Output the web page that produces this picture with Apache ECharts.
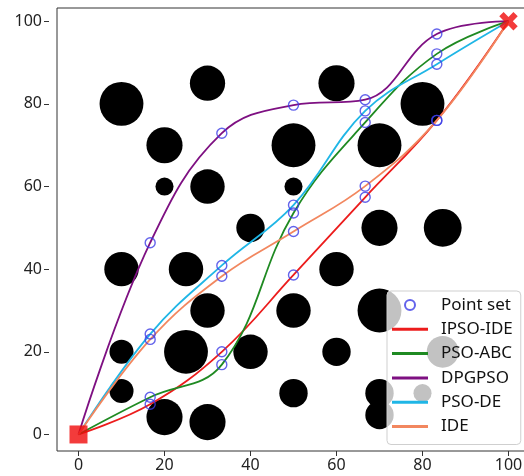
<!DOCTYPE html>
<html>
<head>
<meta charset="utf-8">
<script src="https://cdn.jsdelivr.net/npm/echarts@6/dist/echarts.min.js"></script>
<style>
  html, body { margin: 0; padding: 0; background: #fff; }
  #main { width: 524px; height: 476px; }
</style>
</head>
<body>
<div id="main"></div>
<script>
// path nodes (x positions shared by all paths)
var pathX = [0, 16.67, 33.33, 50, 66.67, 83.33, 100];
var ipsoIde = [0, 7.3, 20.0, 38.6, 57.4, 76.0, 100];
var psoAbc = [0, 9.0, 16.9, 53.6, 75.5, 92.1, 100];
var dpgpso = [0, 46.4, 72.9, 79.7, 81.0, 96.9, 100];
var psoDe = [0, 24.3, 40.9, 55.5, 78.3, 89.6, 100];
var ide = [0, 23.0, 38.3, 49.1, 60.1, 76.0, 100];

// obstacles: centre and radius (data units)
var obsX = [10, 30, 20, 20, 30, 40, 60, 80, 50, 70, 50, 70, 84.7, 10, 25, 30, 25, 10, 10, 20, 30, 40, 60, 50, 70, 60, 50, 70, 70, 80, 84.7];
var obsY = [80, 85, 70, 60, 60, 50, 85, 80, 70, 70, 60, 50, 50, 40, 40, 30, 20, 20, 10.5, 4.2, 3, 20, 40, 30, 30, 20, 10, 10, 4.7, 10, 20];
var obsR = [5.1, 4.1, 4.2, 2.1, 4, 3.3, 4.2, 5.1, 5.1, 5.1, 2.1, 4.2, 4.4, 4, 4, 4, 5.1, 2.8, 2.8, 4.2, 4.2, 4, 4, 4, 5.1, 3.3, 3.3, 3.3, 3.3, 2.1, 3.7];

var startPt = [0, 0];
var endPt = [100, 100];
var tickVals = [0, 20, 40, 60, 80, 100];

var xMin = -5, xMax = 105;
var gridLeft = 57, gridRight = -6;
var pxPerUnit = (524 - gridLeft - gridRight) / (xMax - xMin);

function pairs(ys) {
  return pathX.map(function (x, i) { return [x, ys[i]]; });
}

var obstacles = obsX.map(function (x, i) { return [x, obsY[i], obsR[i]]; });

var pointSet = [];
[ipsoIde, psoAbc, dpgpso, psoDe, ide].forEach(function (ys) {
  for (var i = 1; i < pathX.length - 1; i++) pointSet.push([pathX[i], ys[i]]);
});

var font = 'Noto Sans';
var lineIcon = 'path://M0,0H36V3H0Z';

function pathSeries(name, ys, color) {
  return {
    name: name,
    type: 'line',
    data: pairs(ys),
    smooth: 0.4,
    symbol: 'none',
    showSymbol: false,
    z: 3,
    lineStyle: { color: color, width: 1.8 },
    itemStyle: { color: color }
  };
}

var chart = echarts.init(document.getElementById('main'));
var option = {
  animation: false,
  grid: {
    left: gridLeft, right: gridRight, top: 8, bottom: 25,
    outerBoundsMode: 'none',
    containLabel: false,
    show: true, borderColor: '#333', borderWidth: 1, backgroundColor: '#fff'
  },
  xAxis: {
    type: 'value', min: xMin, max: xMax,
    axisLine: { show: false, onZero: false },
    splitLine: { show: false },
    axisTick: { show: true, length: 5, lineStyle: { color: '#333' }, customValues: tickVals },
    axisLabel: { color: '#222', fontSize: 16, fontFamily: font, margin: 6, customValues: tickVals }
  },
  yAxis: {
    type: 'value', min: -4, max: 103.2, offset: 8,
    axisLine: { show: false, onZero: false },
    splitLine: { show: false },
    axisTick: { show: true, length: 5, lineStyle: { color: '#333' }, customValues: tickVals },
    axisLabel: { color: '#222', fontSize: 16, fontFamily: font, margin: 7, customValues: tickVals }
  },
  legend: {
    orient: 'vertical',
    left: 387, top: 291,
    z: 10,
    data: [
      { name: 'Point set', icon: 'circle' },
      { name: 'IPSO-IDE', icon: lineIcon },
      { name: 'PSO-ABC', icon: lineIcon },
      { name: 'DPGPSO', icon: lineIcon },
      { name: 'PSO-DE', icon: lineIcon },
      { name: 'IDE', icon: lineIcon }
    ],
    backgroundColor: 'rgba(255,255,255,0.76)',
    borderColor: '#cfcfcf', borderWidth: 1, borderRadius: 4,
    padding: [4, 8, 8, 5],
    itemWidth: 36, itemHeight: 10, itemGap: 4.3,
    textStyle: { fontSize: 17, fontFamily: font, color: '#111', lineHeight: 20, padding: [0, 0, 0, 8] }
  },
  series: [
    {
      name: 'obstacles', type: 'scatter', data: obstacles, z: 1,
      symbol: 'circle',
      symbolSize: function (v) { return v[2] * 2 * pxPerUnit; },
      itemStyle: { color: '#000', opacity: 1 },
      emphasis: { disabled: true }
    },
    pathSeries('IPSO-IDE', ipsoIde, '#ec1c1c'),
    pathSeries('PSO-ABC', psoAbc, '#1f8a22'),
    pathSeries('DPGPSO', dpgpso, '#7e1082'),
    pathSeries('PSO-DE', psoDe, '#1fb6e6'),
    pathSeries('IDE', ide, '#f2875f'),
    {
      name: 'Point set', type: 'scatter', data: pointSet, z: 4,
      symbol: 'circle', symbolSize: 10,
      itemStyle: { color: 'rgba(0,0,0,0)', borderColor: '#3c3ce6', borderWidth: 1.4 }
    },
    {
      name: 'start', type: 'scatter', data: [startPt], z: 5,
      symbol: 'rect', symbolSize: 18,
      itemStyle: { color: '#f00a0a' }
    },
    {
      name: 'end', type: 'scatter', data: [endPt], z: 5,
      symbol: 'path://M-1.1,-3.6H1.1V-1.1H3.6V1.1H1.1V3.6H-1.1V1.1H-3.6V-1.1H-1.1Z',
      symbolSize: 20, symbolRotate: 45,
      itemStyle: { color: '#f00a0a' }
    }
  ]
};
chart.setOption(option);
</script>
</body>
</html>
